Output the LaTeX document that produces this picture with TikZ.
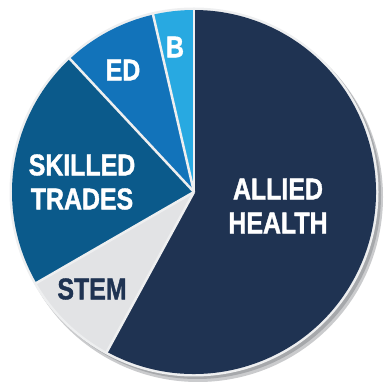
\documentclass[tikz,border=0pt]{standalone}
\usepackage{fontspec}
\newfontfamily\piefont{Liberation Sans}[FakeStretch=0.83, FakeBold=1.3]
\usepackage{tikz}
\usetikzlibrary{calc}

\definecolor{alliedblue}{HTML}{1F3352}
\definecolor{bblue}{HTML}{28A9E1}
\definecolor{edblue}{HTML}{1273BA}
\definecolor{tradesblue}{HTML}{0B5A8B}
\definecolor{stemgray}{HTML}{E2E3E5}
\definecolor{rimgray}{HTML}{EEEFF0}
\definecolor{shadowgray}{HTML}{A6A8AB}

\tikzset{
    slicelabel/.style={font=\piefont\bfseries\fontsize{30}{34}\selectfont, text=white, align=center, inner sep=0pt},
}

\begin{document}
\begin{tikzpicture}[x=1pt, y=1pt]
            \useasboundingbox (0,0) rectangle (385,385);
            \coordinate (c) at (194,193);

            \fill[shadowgray!60] ($(c)+(4,-5)$) circle (185pt);
            \fill[shadowgray] ($(c)+(3,-3)$) circle (184pt);
            \fill[rimgray] (c) circle (184.5pt);

            \foreach \a\b\col in {-118.6/90/alliedblue, 90/103/bblue, 103/133/edblue, 133/210/tradesblue, 210/241.4/stemgray} {
                \fill[\col] (c) -- ($(c)+(\a:182pt)$) arc[start angle=\a, end angle=\b, radius=182pt] -- cycle;
            }

            \foreach \a in {90, 103, 133, 210, 241.4} {
                \draw[rimgray, line width=2.5pt] (c) -- ($(c)+(\a:183pt)$);
            }

            \node[slicelabel] (allied) at (278,179) {ALLIED\\HEALTH};
            \node[slicelabel] (trades) at (82,203) {SKILLED\\TRADES};
            \node[slicelabel] (ed) at (123,315) {ED};
            \node[slicelabel] (b) at (175,338) {B};
            \node[slicelabel, text=alliedblue] (stem) at (92,96) {STEM};
        \end{tikzpicture}
\end{document}
